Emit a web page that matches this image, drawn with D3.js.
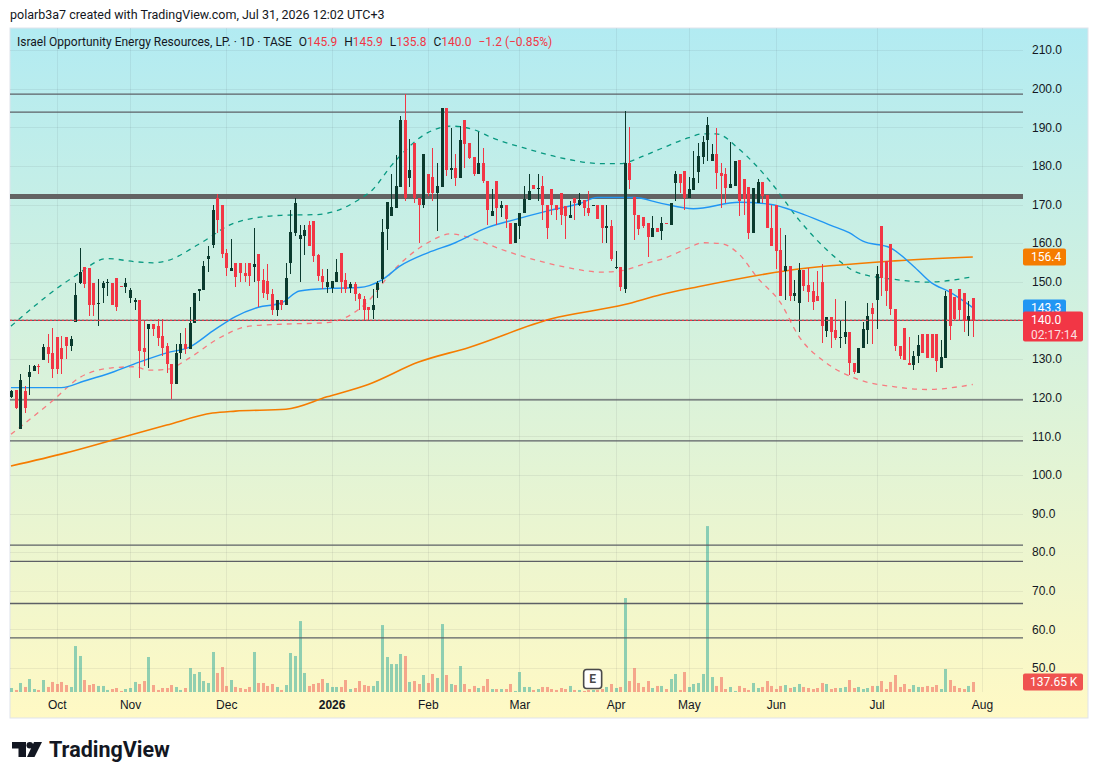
<!DOCTYPE html>
<html lang="en">
<head>
    <meta charset="UTF-8">
    <title>Israel Opportunity Energy Resources, LP. · 1D · TASE</title>
    <script src="https://d3js.org/d3.v7.min.js"></script>
    <style>
        body { margin: 0; background: #fff; }
        svg { display: block; font-family: Roboto, "Noto Sans", sans-serif; }
        .axis text { font-size: 12px; fill: #131722; }
        .axis path, .axis line { display: none; }
    </style>
</head>
<body>
<script>
    const width = 1098;
    const height = 780;

    // daily candles, [open, high, low, close]
    const ohlc = [
        [120.2,121.9,120.0,121.7],[121.9,121.9,117.0,117.4],[111.8,126.0,111.8,124.5],[121.6,123.0,116.1,117.4],
        [125.3,128.4,120.8,126.7],[126.8,128.5,126.8,128.2],[128.3,128.6,126.0,128.1],[129.7,134.0,129.7,133.0],
        [133.0,136.4,129.0,131.3],[131.5,138.0,125.1,127.3],[135.8,135.8,126.0,127.3],[132.9,135.9,126.0,129.9],
        [135.8,135.8,129.9,133.4],[133.4,135.9,132.1,135.3],[139.6,149.7,139.6,146.5],[149.6,158.8,149.3,152.5],
        [153.9,153.9,148.5,149.3],[153.6,153.6,141.1,144.1],[149.6,149.6,141.1,144.1],[144.2,150.6,138.5,144.5],
        [148.5,150.2,144.4,149.6],[149.6,150.6,146.3,150.0],[149.7,149.7,144.1,144.1],[150.9,150.9,142.4,143.5],
        [148.8,148.8,148.6,148.6],[148.7,150.9,147.2,149.7],[145.9,148.5,144.6,147.9],[144.7,145.9,142.8,145.4],
        [145.4,145.4,125.2,132.1],[132.9,139.8,128.2,131.8],[137.7,139.0,127.7,139.0],[139.0,139.0,135.9,137.7],
        [138.5,140.3,133.4,135.5],[135.9,140.3,130.8,132.9],[133.4,134.2,126.5,128.6],[128.6,128.6,119.6,123.4],
        [123.4,133.8,123.4,131.5],[131.5,136.8,129.9,134.0],[134.0,138.1,131.2,132.7],[132.7,143.5,132.7,139.4],
        [139.4,147.2,139.4,147.0],[147.6,148.0,145.0,148.0],[147.9,155.5,147.9,154.2],[155.8,159.2,152.5,156.6],
        [159.5,169.8,158.8,168.7],[171.8,172.6,162.5,166.0],[170.0,170.0,156.2,157.1],[157.5,158.4,151.6,153.6],
        [152.8,161.0,152.8,153.6],[154.8,154.8,148.7,151.2],[154.8,154.8,149.9,152.2],[152.3,154.8,149.9,151.6],
        [154.8,154.8,148.9,151.6],[153.8,163.9,149.9,154.5],[157.3,157.3,143.5,150.2],[150.4,153.2,145.9,147.2],
        [150.2,154.5,145.4,146.7],[146.7,148.2,141.3,142.7],[142.7,145.4,141.1,145.4],[145.4,145.4,142.8,144.1],
        [144.1,154.8,144.1,151.0],[154.8,168.7,151.9,163.0],[162.7,171.8,161.8,170.5],[161.0,164.8,149.9,162.1],
        [161.8,164.8,156.8,163.4],[164.8,165.7,159.2,159.2],[165.7,165.7,155.1,156.7],[156.8,157.3,150.2,151.6],
        [151.6,153.2,148.2,149.9],[148.7,153.2,147.2,149.9],[148.5,150.2,147.0,150.2],[149.9,156.0,149.9,152.5],
        [157.5,157.5,147.2,149.9],[150.4,152.3,147.2,148.2],[148.5,149.9,147.2,149.3],[149.3,149.9,145.0,146.7],
        [146.7,147.2,142.8,145.6],[145.6,146.3,140.0,142.8],[143.5,143.5,140.0,142.6],[142.8,148.0,140.3,144.1],
        [147.9,150.1,145.9,149.6],[150.6,166.3,149.7,163.0],[163.6,170.6,158.2,170.6],[167.0,177.8,167.0,169.3],
        [169.2,182.7,169.2,174.8],[174.5,192.9,174.5,191.8],[191.8,198.7,170.9,171.8],[176.8,186.9,174.5,178.9],
        [185.8,185.8,170.3,171.8],[171.8,171.8,160.1,169.8],[169.8,183.0,169.2,183.0],[177.8,177.8,172.2,173.0],
        [177.1,184.7,170.9,173.0],[173.0,180.8,163.1,174.8],[174.5,194.9,174.5,194.9],[194.9,194.9,177.4,178.9],
        [178.9,189.9,176.5,179.5],[179.5,183.0,174.9,176.8],[176.8,190.3,176.8,186.6],[191.8,191.8,179.5,185.6],
        [185.8,185.8,181.7,182.1],[182.4,182.4,177.4,177.8],[177.8,188.7,177.8,180.8],[180.8,184.7,175.5,176.1],
        [176.1,176.1,164.8,168.5],[167.0,173.9,167.0,168.2],[176.0,176.0,164.8,169.2],[169.2,170.9,166.8,169.8],
        [169.8,169.8,164.0,166.3],[165.1,165.1,159.7,159.9],[160.1,165.1,160.1,165.1],[164.4,167.9,161.1,167.9],
        [167.9,174.9,167.9,171.3],[171.1,177.8,171.1,173.4],[175.1,175.1,173.9,173.9],[174.0,177.8,170.9,174.3],
        [174.9,177.5,166.1,169.8],[169.9,169.9,161.1,164.0],[173.9,173.9,167.4,169.8],[169.9,169.9,166.1,168.6],
        [172.9,172.9,164.8,167.2],[169.6,169.6,161.1,167.0],[166.6,170.9,166.6,167.2],[171.8,171.8,166.1,170.5],
        [170.0,172.9,169.6,171.1],[171.1,171.1,167.0,169.2],[169.2,173.4,167.0,167.9],[169.6,169.9,169.6,169.9],
        [169.9,169.9,166.3,166.3],[169.9,169.9,160.1,164.0],[164.0,169.9,160.1,164.4],[164.4,166.1,155.4,155.8],
        [153.6,157.9,153.2,153.9],[153.9,153.9,147.5,148.7],[148.2,194.2,147.2,180.8],[180.8,190.0,173.9,176.3],
        [172.0,172.0,160.8,167.2],[167.4,167.4,162.0,163.7],[166.8,166.8,164.0,164.4],[165.3,165.3,156.5,161.7],
        [161.7,167.0,161.7,163.8],[163.8,163.8,163.0,163.0],[163.1,166.8,160.8,165.1],[165.2,165.2,165.0,165.0],
        [164.6,170.3,164.6,170.3],[175.5,178.8,170.9,177.8],[177.8,177.8,173.0,175.5],[178.8,178.8,168.5,171.6],
        [171.6,177.2,171.6,173.9],[173.7,183.8,173.7,176.9],[178.4,186.0,175.6,182.5],[182.4,187.7,180.4,186.2],
        [186.7,192.7,181.2,190.7],[181.2,185.6,181.2,183.0],[183.0,189.9,174.1,178.2],[178.2,180.8,169.2,177.5],
        [177.8,179.5,170.5,174.2],[174.3,186.2,174.3,175.2],[174.9,181.2,174.9,181.2],[181.4,181.4,167.0,170.9],
        [176.5,176.5,167.4,171.3],[174.6,174.6,161.1,162.7],[162.7,174.3,162.7,174.3],[170.5,176.7,170.3,175.9],
        [175.9,175.9,170.3,172.2],[172.4,172.4,164.0,164.0],[164.0,170.0,159.2,159.2],[170.0,170.0,153.2,157.9],
        [158.1,164.0,146.3,146.3],[152.8,162.0,145.4,154.1],[154.1,154.1,145.0,146.3],[146.3,150.4,145.0,147.0],
        [144.4,154.9,137.0,153.0],[153.0,153.0,147.6,148.9],[149.1,153.6,144.7,147.3],[147.6,149.9,142.8,144.7],
        [146.3,152.8,145.0,145.0],[149.9,154.5,134.2,138.5],[137.2,140.9,135.8,140.9],[140.9,140.9,132.9,137.1],
        [137.5,145.6,134.8,135.5],[135.6,139.8,132.9,135.8],[135.8,145.0,133.8,137.1],[137.1,137.1,125.8,128.9],
        [129.0,129.0,126.0,126.6],[126.3,132.9,126.3,132.9],[132.9,139.6,132.9,137.7],[137.5,144.4,133.8,141.1],
        [143.3,144.4,133.8,141.6],[145.3,154.1,137.7,151.9],[164.4,164.4,146.3,151.0],[155.4,155.4,143.7,147.6],
        [159.9,159.9,141.3,143.0],[143.0,143.0,132.1,133.4],[133.4,133.4,129.9,130.8],[137.9,137.9,129.7,129.7],
        [129.0,135.8,128.4,128.5],[128.5,132.1,127.1,130.9],[130.9,136.1,129.0,133.5],[136.4,136.4,131.6,131.6],
        [136.4,136.4,130.3,130.3],[136.4,136.4,130.3,130.3],[136.4,136.4,126.6,129.5],[127.7,134.9,127.7,130.5],
        [130.3,147.6,130.3,146.3],[148.0,148.0,134.9,138.5],[146.1,146.1,140.2,140.4],[148.0,148.0,139.8,142.7],
        [147.0,147.0,137.0,139.8],[139.8,145.0,135.9,141.2],[145.9,145.9,135.8,140.0]
    ];

    // volume in thousands, one per candle
    const volume = [
        55,28,124,69,179,41,28,165,69,138,110,138,96,69,633,496,165,96,110,83,
        83,28,41,55,14,41,55,138,110,151,482,96,28,55,55,96,69,28,55,330,
        248,275,151,124,551,262,344,83,165,69,55,41,69,551,124,124,83,110,69,28,
        96,537,496,977,262,83,110,124,179,124,69,69,69,165,41,55,151,96,83,83,
        151,922,482,385,385,523,496,138,151,110,234,124,248,193,936,234,110,96,358,110,
        41,83,55,83,179,41,41,41,41,110,14,275,69,69,28,41,69,69,41,28,
        55,41,83,28,28,14,28,28,28,41,69,110,55,69,1294,151,330,124,69,151,
        55,83,83,41,179,248,28,275,69,110,124,248,2285,206,83,206,41,69,14,83,
        55,28,124,55,69,151,83,41,83,96,55,69,110,69,55,41,55,124,110,41,
        55,55,69,165,55,69,41,55,83,83,151,41,138,234,69,110,41,96,69,69,
        83,69,96,41,317,165,83,55,41,83,137.65
    ];

    // moving average (blue) and long moving average (orange), [bar, value]
    const maFast = [
        [1,122.6],[12,122.6],[17,124.3],[23,126.5],[29,129.2],[35,131.6],[40,133.1],[45,137.2],
        [50,141.0],[55,143.4],[60,144.5],[64,147.6],[71,148.3],[77,148.5],[82,150.5],[86,154.1],
        [92,157.5],[98,160.1],[105,164.0],[111,166.1],[118,168.3],[125,170.2],[129,171.8],[137,171.8],
        [143,170.3],[150,168.9],[160,170.6],[167,170.0],[173,167.9],[180,164.6],[184,162.7],[187,160.5],
        [193,158.8],[198,154.1],[202,149.7],[206,147.3],[211,143.3]
    ];
    const maSlow = [
        [1,102.3],[13,105.7],[24,109.3],[35,112.9],[45,116.0],[50,116.5],[61,117.0],[70,120.2],
        [79,123.4],[90,129.2],[101,133.0],[119,140.4],[135,144.1],[143,146.7],[151,148.7],[170,152.8],
        [194,155.4],[211,156.4]
    ];

    // envelope bands, [bar, value]
    const bandUpper = [
        [1,138.5],[15,151.5],[22,156.0],[28,155.2],[32,154.9],[35,155.4],[42,159.7],[50,165.3],
        [60,167.2],[68,167.4],[71,168.0],[77,171.3],[80,173.9],[84,180.0],[92,188.6],[97,190.3],
        [102,189.4],[106,187.3],[114,184.3],[121,182.1],[130,180.6],[134,180.6],[139,182.5],[143,184.5],
        [149,187.3],[152,188.3],[155,188.3],[160,184.3],[167,175.6],[173,166.1],[179,158.4],[186,152.3],
        [194,150.6],[201,149.9],[211,151.3]
    ];
    const bandLower = [
        [1,110.5],[10,119.1],[16,125.2],[23,127.7],[28,128.0],[31,127.1],[35,127.3],[40,130.3],
        [46,135.1],[53,138.5],[60,139.0],[70,139.4],[74,140.7],[79,145.0],[84,152.3],[92,160.1],
        [97,162.4],[102,161.1],[108,158.4],[115,155.8],[122,153.8],[130,152.5],[134,152.8],[140,154.9],
        [143,155.8],[149,158.8],[152,160.1],[156,159.9],[160,157.1],[164,151.0],[169,144.6],[173,135.9],
        [179,129.0],[186,124.7],[194,122.8],[201,122.1],[211,123.4]
    ];

    // horizontal levels drawn on the chart
    const levels = [198.6, 193.9, 140.0, 119.4, 108.8, 81.8, 77.6, 66.7, 57.8];
    const thickLevel = 172.1;

    const priceTicks = d3.range(50, 211, 10);
    const monthBars = [11, 27, 48, 71, 92, 112, 133, 149, 168, 190, 213];
    const monthLabels = ["Oct", "Nov", "Dec", "2026", "Feb", "Mar", "Apr", "May", "Jun", "Jul", "Aug"];
    const earningsBar = 128;
    const countdown = "02:17:14";

    const UP = "#0b3a2e", DOWN = "#f23645";

    const svg = d3.select("body").append("svg")
        .attr("width", width).attr("height", height);

    const pane = {left: 10, top: 28, right: 1088, bottom: 718};
    const plot = {left: 10, top: 28, right: 1023, bottom: 692};

    const x = d3.scaleLinear().domain([1, 211]).range([11, 972.8]);
    const y = d3.scaleLinear().domain([50, 210]).range([668, 50]);
    const yVol = d3.scaleLinear().domain([0, 2300]).range([692, 525]);

    // background gradient
    const defs = svg.append("defs");
    const grad = defs.append("linearGradient").attr("id", "bg")
        .attr("x1", 0).attr("y1", 0).attr("x2", 0).attr("y2", 1);
    grad.append("stop").attr("offset", "0%").attr("stop-color", "#b2ebf2");
    grad.append("stop").attr("offset", "100%").attr("stop-color", "#fff9c4");
    defs.append("clipPath").attr("id", "clip").append("rect")
        .attr("x", plot.left).attr("y", plot.top)
        .attr("width", plot.right - plot.left).attr("height", plot.bottom - plot.top);

    svg.append("rect")
        .attr("x", pane.left).attr("y", pane.top)
        .attr("width", pane.right - pane.left).attr("height", pane.bottom - pane.top)
        .attr("fill", "url(#bg)").attr("stroke", "#e0e3eb");

    const g = svg.append("g").attr("clip-path", "url(#clip)");

    // grid
    g.selectAll("line.vgrid").data(monthBars).enter().append("line")
        .attr("x1", d => Math.round(x(d)) + 0.5).attr("x2", d => Math.round(x(d)) + 0.5)
        .attr("y1", plot.top).attr("y2", plot.bottom)
        .attr("stroke", "rgba(42,46,57,0.07)");
    g.selectAll("line.hgrid").data(priceTicks).enter().append("line")
        .attr("x1", plot.left).attr("x2", plot.right)
        .attr("y1", d => Math.round(y(d)) + 0.5).attr("y2", d => Math.round(y(d)) + 0.5)
        .attr("stroke", "rgba(42,46,57,0.07)");

    // volume
    g.selectAll("rect.vol").data(volume).enter().append("rect")
        .attr("x", (d, i) => Math.round(x(i + 1)) - 1)
        .attr("width", 3)
        .attr("y", d => yVol(d))
        .attr("height", d => yVol(0) - yVol(d))
        .attr("fill", (d, i) => ohlc[i][3] >= ohlc[i][0] ? "rgba(38,166,154,0.5)" : "rgba(239,83,80,0.5)");

    // drawn levels
    g.selectAll("line.level").data(levels).enter().append("line")
        .attr("x1", plot.left).attr("x2", plot.right)
        .attr("y1", d => y(d)).attr("y2", d => y(d))
        .attr("stroke", "#5d6066").attr("stroke-width", 1.3);
    g.append("line")
        .attr("x1", plot.left).attr("x2", plot.right)
        .attr("y1", y(thickLevel)).attr("y2", y(thickLevel))
        .attr("stroke", "#636363").attr("stroke-width", 5);

    // indicator lines
    const line = d3.line().x(d => x(d[0])).y(d => y(d[1])).curve(d3.curveMonotoneX);
    g.append("path").datum(maSlow).attr("d", line)
        .attr("fill", "none").attr("stroke", "#f57c00").attr("stroke-width", 1.6);
    g.append("path").datum(bandUpper).attr("d", line)
        .attr("fill", "none").attr("stroke", "#089981").attr("stroke-width", 1.3)
        .attr("stroke-dasharray", "5,5");
    g.append("path").datum(bandLower).attr("d", line)
        .attr("fill", "none").attr("stroke", "#f77c80").attr("stroke-width", 1.3)
        .attr("stroke-dasharray", "5,5");
    g.append("path").datum(maFast).attr("d", line)
        .attr("fill", "none").attr("stroke", "#2196f3").attr("stroke-width", 1.4);

    // candles
    const candle = g.selectAll("g.candle").data(ohlc).enter().append("g")
        .attr("shape-rendering", "crispEdges");
    candle.append("line")
        .attr("x1", (d, i) => Math.round(x(i + 1)) + 0.5).attr("x2", (d, i) => Math.round(x(i + 1)) + 0.5)
        .attr("y1", d => y(d[1])).attr("y2", d => y(d[2]))
        .attr("stroke", d => d[3] >= d[0] ? UP : DOWN);
    candle.append("rect")
        .attr("x", (d, i) => Math.round(x(i + 1)) - 1)
        .attr("width", 3)
        .attr("y", d => y(Math.max(d[0], d[3])))
        .attr("height", d => Math.max(1, Math.abs(y(d[0]) - y(d[3]))))
        .attr("fill", d => d[3] >= d[0] ? UP : DOWN);

    // last price line
    const last = ohlc[ohlc.length - 1];
    const prev = ohlc[ohlc.length - 2];
    g.append("line")
        .attr("x1", plot.left).attr("x2", plot.right)
        .attr("y1", y(last[3])).attr("y2", y(last[3]))
        .attr("stroke", DOWN).attr("stroke-width", 1.3).attr("stroke-dasharray", "2,2");

    // earnings marker
    const eg = svg.append("g").attr("transform", `translate(${x(earningsBar)},679)`);
    eg.append("rect").attr("x", -9).attr("y", -9.5).attr("width", 18).attr("height", 19)
        .attr("rx", 3).attr("fill", "#fff").attr("stroke", "#4a4a4a").attr("stroke-width", 1.6);
    eg.append("text").attr("text-anchor", "middle").attr("dy", "0.36em")
        .attr("font-size", 12).attr("font-weight", 700).attr("fill", "#4a4a4a").text("E");

    // axes
    svg.append("g").attr("class", "axis")
        .attr("transform", `translate(${plot.right},0)`)
        .call(d3.axisRight(y).tickValues(priceTicks).tickFormat(d3.format(".1f")).tickSize(0).tickPadding(9));
    svg.append("g").attr("class", "axis")
        .attr("transform", `translate(0,${plot.bottom})`)
        .call(d3.axisBottom(x).tickValues(monthBars).tickFormat((d, i) => monthLabels[i]).tickSize(0).tickPadding(8))
        .selectAll("text")
        .attr("font-weight", (d, i) => monthLabels[i] === "2026" ? 700 : 400);

    // price labels on the axis
    function tag(v, fill, text, sub, w) {
        const yy = Math.round(y(v));
        const h = sub ? 30 : 17;
        const t = svg.append("g").attr("transform", `translate(${plot.right},${yy})`);
        t.append("rect").attr("x", 0).attr("y", -8.5).attr("width", w).attr("height", h)
            .attr("rx", 2).attr("fill", fill);
        t.append("text").attr("x", 8).attr("dy", "0.35em").attr("font-size", 12)
            .attr("fill", "#fff").text(text);
        if (sub) {
            t.append("text").attr("x", 8).attr("y", 14.5).attr("dy", "0.35em").attr("font-size", 12)
                .attr("fill", "rgba(255,255,255,0.85)").text(sub);
        }
    }
    const fmt1 = d3.format(".1f");
    tag(maSlow[maSlow.length - 1][1], "#f57c00", fmt1(maSlow[maSlow.length - 1][1]), null, 43);
    tag(maFast[maFast.length - 1][1], "#2196f3", fmt1(maFast[maFast.length - 1][1]), null, 43);
    tag(last[3], DOWN, fmt1(last[3]), countdown, 60);
    {
        const vv = volume[volume.length - 1];
        const t = svg.append("g").attr("transform", `translate(${plot.right},682)`);
        t.append("rect").attr("x", 0).attr("y", -8.5).attr("width", 60).attr("height", 17)
            .attr("rx", 2).attr("fill", "#ef5350");
        t.append("text").attr("x", 7).attr("dy", "0.35em").attr("font-size", 12)
            .attr("fill", "#fff").text(d3.format(".2f")(vv) + " K");
    }

    // header
    svg.append("text").attr("x", 10).attr("y", 19).attr("font-size", 12.5).attr("fill", "#131722")
        .text("polarb3a7 created with TradingView.com, Jul 31, 2026 12:02 UTC+3");

    // legend
    const chg = last[3] - prev[3];
    const legendParts = [
        ["Israel Opportunity Energy Resources, LP. · 1D · TASE", "#131722", 0],
        ["O", "#131722", 7], [fmt1(last[0]), DOWN, 0],
        ["H", "#131722", 7], [fmt1(last[1]), DOWN, 0],
        ["L", "#131722", 7], [fmt1(last[2]), DOWN, 0],
        ["C", "#131722", 7], [fmt1(last[3]), DOWN, 0],
        [fmt1(chg) + " (" + d3.format(".2f")(chg / prev[3] * 100) + "%)", DOWN, 7]
    ];
    const legend = svg.append("text").attr("x", 17).attr("y", 46).attr("font-size", 12);
    legendParts.forEach(p => legend.append("tspan").attr("dx", p[2]).attr("fill", p[1]).text(p[0]));

    // TradingView logo
    const logo = svg.append("g").attr("fill", "#131722");
    logo.append("path").attr("d", "M12,742 H26 V757 H18.5 V748.5 H12 Z");
    logo.append("circle").attr("cx", 29.8).attr("cy", 745.3).attr("r", 3.3);
    logo.append("path").attr("d", "M34,742 H42 L34.5,757 H27 Z");
    svg.append("text").attr("x", 49).attr("y", 757).attr("font-size", 21.5).attr("font-weight", 700)
        .attr("fill", "#131722").text("TradingView");
</script>
</body>
</html>
